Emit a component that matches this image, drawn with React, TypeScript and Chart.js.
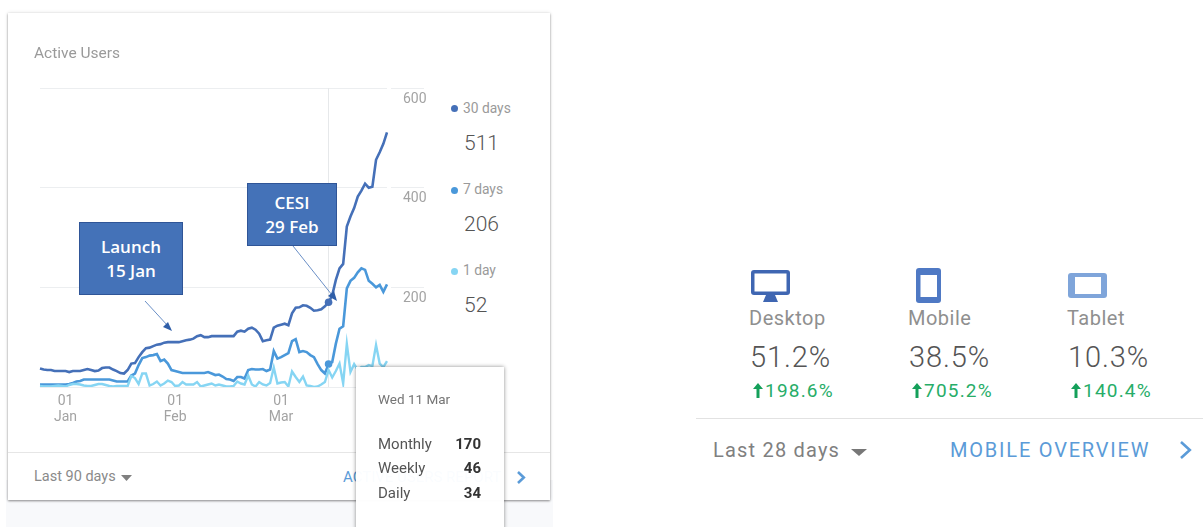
import React, { useEffect, useRef } from "react";
import { Chart, registerables } from "chart.js";

Chart.register(...registerables);

const monthly = [37,35,34,34,32,32,32,32,30,32,32,32,34,36,34,32,33,38,39,39,35,32,28,27,34,47,48,60,70,78,79,82,85,86,89,90,90,90,90,92,94,95,97,102,104,100,100,102,102,102,102,102,102,102,111,113,111,117,119,115,107,92,94,95,119,123,125,127,124,148,159,160,164,163,159,153,154,156,162,170,184,215,238,247,322,342,359,382,394,408,400,402,456,471,488,511];
const weekly = [5,5,5,5,5,5,5,5,6,8,11,12,15,15,15,15,15,15,15,15,13,11,11,11,11,23,27,44,58,60,63,64,66,52,55,47,34,32,30,28,28,28,28,28,28,28,30,27,24,25,21,16,15,12,20,20,17,34,36,35,35,36,32,35,72,57,60,64,68,92,96,70,72,70,64,60,46,34,27,46,50,87,117,122,198,213,219,230,238,235,213,207,200,205,191,206];
const daily = [2,1,1,1,2,3,2,1,4,6,6,5,3,2,2,4,6,6,4,2,1,2,2,2,2,22,18,6,27,27,3,6,11,3,7,13,10,2,3,10,5,5,5,10,1,3,5,7,3,5,3,1,1,2,11,7,5,23,5,1,10,5,3,8,39,7,9,10,1,31,20,10,21,3,2,0,1,5,10,34,19,32,47,7,87,30,46,34,40,40,44,42,84,47,40,52];
const dayIndex = monthly.map((_, i) => String(i));
const axisTicks: Record<number, string[]> = { 7: ["01", "Jan"], 37: ["01", "Feb"], 66: ["01", "Mar"] };
const valueTicks = [0, 200, 400, 600];
const hoverIndex = 79;

const seriesNames = ["30 days", "7 days", "1 day"];
const seriesColors = ["#4570b8", "#4a98da", "#86d5f3"];
const seriesLatest = ["511", "206", "52"];
const tooltipRows = [["Monthly", "170"], ["Weekly", "46"], ["Daily", "34"]];

const deviceNames = ["Desktop", "Mobile", "Tablet"];
const deviceShares = ["51.2%", "38.5%", "10.3%"];
const deviceChanges = ["198.6%", "705.2%", "140.4%"];

const crosshair = {
  id: "crosshair",
  beforeDatasetsDraw(chart: any) {
    const x = chart.scales.x.getPixelForValue(hoverIndex);
    const { top, bottom } = chart.chartArea;
    const c = chart.ctx;
    c.save();
    c.strokeStyle = "#e6e8ea";
    c.lineWidth = 1;
    c.beginPath();
    c.moveTo(Math.floor(x) + 0.5, top);
    c.lineTo(Math.floor(x) + 0.5, bottom);
    c.stroke();
    c.restore();
  },
};

function T({ x, y, size, color = "#9a9a9a", weight = 400, font = "Roboto", right, spacing, children }: any) {
  const s: React.CSSProperties = {
    position: "absolute",
    top: y,
    transform: "translateY(-50%)",
    fontFamily: font,
    fontSize: size,
    fontWeight: weight,
    color,
    lineHeight: 1,
    whiteSpace: "nowrap",
    letterSpacing: spacing,
  };
  if (right !== undefined) s.right = 1203 - right;
  else s.left = x;
  return <div style={s}>{children}</div>;
}

function Caret({ x, y, w, h, color }: any) {
  return (
    <svg style={{ position: "absolute", left: x, top: y }} width={w} height={h}>
      <polygon points={`0,0 ${w},0 ${w / 2},${h}`} fill={color} />
    </svg>
  );
}

function Chevron({ x, y, h, color }: any) {
  const w = h * 0.6;
  return (
    <svg style={{ position: "absolute", left: x, top: y, overflow: "visible" }} width={w} height={h}>
      <polyline points={`1,1 ${w - 1},${h / 2} 1,${h - 1}`} fill="none" stroke={color} strokeWidth={2.6} />
    </svg>
  );
}

function Callout({ x, y, w, h, lines }: any) {
  return (
    <div
      style={{
        position: "absolute",
        left: x,
        top: y,
        width: w,
        height: h,
        boxSizing: "border-box",
        background: "#4472b8",
        border: "1px solid #2f5597",
        color: "#fff",
        fontFamily: "Open Sans",
        fontWeight: 600,
        fontSize: 17,
        lineHeight: "23.5px",
        textAlign: "center",
        display: "flex",
        flexDirection: "column",
        justifyContent: "center",
      }}
    >
      {lines.map((l: string) => (
        <div key={l}>{l}</div>
      ))}
    </div>
  );
}

function DeviceIcon({ kind }: any) {
  if (kind === 0)
    return (
      <svg style={{ position: "absolute", left: 751, top: 270 }} width="39" height="33">
        <rect width="39" height="25" rx="3" fill="#3f66b2" />
        <rect x="3.5" y="3.5" width="32" height="18" fill="#fff" />
        <polygon points="15,25 24,25 27,32 12,32" fill="#3f66b2" />
      </svg>
    );
  if (kind === 1)
    return (
      <svg style={{ position: "absolute", left: 916, top: 268 }} width="25" height="35">
        <rect width="25" height="35" rx="3" fill="#4f79c4" />
        <rect x="4.5" y="7" width="16.5" height="22" fill="#fff" />
      </svg>
    );
  return (
    <svg style={{ position: "absolute", left: 1068, top: 273 }} width="39" height="25">
      <rect width="39" height="25" rx="3" fill="#7fa5da" />
      <rect x="7" y="4" width="26" height="17" fill="#fff" />
    </svg>
  );
}

export default function App() {
  const ref = useRef<HTMLCanvasElement>(null);
  useEffect(() => {
    document.body.style.margin = "0";
    document.body.style.background = "#fff";
    const radius = (ctx: any) => (ctx.dataIndex === hoverIndex ? 3.8 : 0);
    const make = (label: string, data: number[], color: string, r: any, w: number) => ({
      label,
      data,
      borderColor: color,
      backgroundColor: color,
      borderWidth: w,
      tension: 0,
      pointRadius: r,
      pointBorderWidth: 0,
      pointHoverRadius: 0,
    });
    const chart = new Chart(ref.current!, {
      type: "line",
      data: {
        labels: dayIndex,
        datasets: [
          make(seriesNames[2], daily, seriesColors[2], 0, 2.4),
          make(seriesNames[1], weekly, seriesColors[1], radius, 2.6),
          make(seriesNames[0], monthly, seriesColors[0], radius, 2.6),
        ],
      },
      options: {
        responsive: false,
        animation: false,
        events: [],
        layout: { padding: { left: 40, top: 88, right: 0, bottom: 0 } },
        plugins: { legend: { display: false }, tooltip: { enabled: false } },
        scales: {
          x: {
            type: "category",
            offset: false,
            border: { display: false },
            grid: { display: false },
            afterFit: (s: any) => {
              s.height = 53;
            },
            ticks: {
              autoSkip: false,
              maxRotation: 0,
              minRotation: 0,
              padding: -2,
              color: "#a3a3a3",
              font: { family: "Roboto", size: 14, lineHeight: 1.15 },
              callback: (_: any, i: number) => axisTicks[i] ?? "",
            },
          },
          y: {
            position: "right",
            min: 0,
            max: 600,
            border: { display: false },
            afterFit: (s: any) => {
              s.width = 53;
            },
            afterBuildTicks: (s: any) => {
              s.ticks = valueTicks.map((value) => ({ value }));
            },
            grid: {
              color: "#eceef0",
              tickColor: "#eceef0",
              tickLength: 37,
              tickBorderDash: [0, 4, 33, 0],
            },
            ticks: {
              padding: -21,
              labelOffset: 11,
              color: "#a3a3a3",
              font: { family: "Roboto", size: 14 },
              callback: (v: any) => (v === 0 ? "" : String(v)),
            },
          },
        },
      },
      plugins: [crosshair],
    } as any);
    return () => chart.destroy();
  }, []);

  const legendY = [108.5, 190, 271];
  const latestY = [142.5, 223.5, 304.5];
  const columns = [749, 908, 1067];

  return (
    <div style={{ position: "relative", width: 1203, height: 527, overflow: "hidden", background: "#fff" }}>
      <div style={{ position: "absolute", left: 6, top: 480, width: 547, height: 47, background: "#f8f9fb" }} />
      <div
        style={{
          position: "absolute",
          left: 8,
          top: 13,
          width: 542,
          height: 487,
          background: "#fff",
          boxShadow: "0 0 4px rgba(0,0,0,0.12), 0 1px 2px rgba(0,0,0,0.4)",
        }}
      />
      <canvas ref={ref} width={440} height={440} style={{ position: "absolute", left: 0, top: 0 }} />
      <T x={34} y={54} size={15.5}>Active Users</T>

      {seriesNames.map((n, i) => (
        <React.Fragment key={n}>
          <div
            style={{
              position: "absolute",
              left: 451,
              top: legendY[i] - 3.5,
              width: 7,
              height: 7,
              borderRadius: "50%",
              background: seriesColors[i],
            }}
          />
          <T x={463} y={legendY[i]} size={13.8}>{n}</T>
          <T x={464} y={latestY[i]} size={21} weight={300} color="#555">{seriesLatest[i]}</T>
        </React.Fragment>
      ))}

      <div style={{ position: "absolute", left: 8, top: 452, width: 542, height: 1, background: "#e6e6e6" }} />
      <T x={34} y={477} size={14.5} color="#8a8a8a">Last 90 days</T>
      <Caret x={121} y={475} w={11} h={6} color="#808080" />
      <T x={343} y={477} size={15} color="#5b9bd8">ACTIVE USERS REPORT</T>
      <Chevron x={517} y={471} h={13} color="#5b9bd8" />

      <Callout x={79} y={222} w={104} h={73} lines={["Launch", "15 Jan"]} />
      <Callout x={247} y={183} w={90} h={63} lines={["CESI", "29 Feb"]} />
      <svg style={{ position: "absolute", left: 0, top: 0 }} width="552" height="440">
        <line x1="145" y1="301" x2="168" y2="326" stroke="#4472b8" strokeWidth="0.8" />
        <polygon points="172,331 163,327 168,322" fill="#2f5ea8" />
        <line x1="293" y1="246" x2="332" y2="295" stroke="#4472b8" strokeWidth="0.8" />
        <polygon points="337,301 328,296 334,291" fill="#2f5ea8" />
      </svg>

      <div
        style={{
          position: "absolute",
          left: 356,
          top: 367,
          width: 148,
          height: 170,
          background: "rgba(255,255,255,0.97)",
          boxShadow: "0 0 4px rgba(0,0,0,0.45)",
        }}
      />
      <T x={378} y={399.5} size={13.5} color="#757575">Wed 11 Mar</T>
      {tooltipRows.map(([n, v], i) => (
        <React.Fragment key={n}>
          <T x={378} y={443.5 + i * 24.5} size={15} color="#555">{n}</T>
          <T right={481} y={443.5 + i * 24.5} size={15} weight={700} color="#333">{v}</T>
        </React.Fragment>
      ))}

      {deviceNames.map((n, i) => (
        <React.Fragment key={n}>
          <DeviceIcon kind={i} />
          <T x={columns[i]} y={318} size={20} color="#8f8f8f" spacing={0.5}>{n}</T>
          <T x={columns[i] + 1} y={357} size={29} weight={300} color="#555" spacing={0.9}>{deviceShares[i]}</T>
          <svg style={{ position: "absolute", left: columns[i] + 3, top: 383 }} width="12" height="15">
            <path d="M6 0 L11 6 H7.5 V15 H4.5 V6 H1 Z" fill="#14a05a" />
          </svg>
          <T x={columns[i] + 16} y={390} size={19} color="#27ad68" spacing={1.2}>{deviceChanges[i]}</T>
        </React.Fragment>
      ))}
      <div style={{ position: "absolute", left: 696, top: 418, width: 507, height: 1, background: "#e2e2e2" }} />
      <T x={713} y={450} size={20} color="#808080" spacing={1.2}>Last 28 days</T>
      <Caret x={851} y={449} w={16} h={7} color="#777" />
      <T x={950} y={450} size={20} color="#5b9bd8" spacing={1.8}>MOBILE OVERVIEW</T>
      <Chevron x={1180} y={441} h={18} color="#5b9bd8" />
    </div>
  );
}
